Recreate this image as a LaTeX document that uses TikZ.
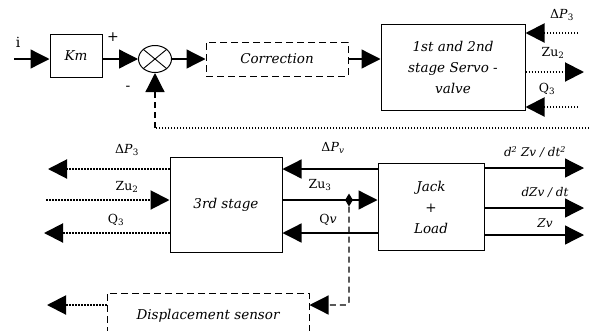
\documentclass[tikz,border=0pt]{standalone}
\usepackage{fontspec}
\setmainfont{DejaVu Serif}
\usetikzlibrary{arrows.meta,positioning,shapes.geometric,calc}

\begin{document}
\begin{tikzpicture}[
    x=1pt, y=-1pt,
    font=\itshape\fontsize{13.5}{21}\selectfont,
    block/.style={draw, line width=1pt, align=center, inner sep=0pt},
    dblock/.style={block, dash pattern=on 7pt off 4pt},
    sig/.style={font=\fontsize{12.5}{14}\selectfont, inner sep=0pt},
    tip/.style={-{Triangle[length=19pt 0 0, width=19pt 0 0]}},
    arrow/.style={tip, line width=1.3pt},
    dotline/.style={line width=2pt, dash pattern=on 1.5pt off 1.5pt},
    darrow/.style={dotline, tip},
    dashline/.style={line width=1.2pt, dash pattern=on 6pt off 4pt},
    dasharrow/.style={dashline, tip}
]
\useasboundingbox (0,0) rectangle (589,330);

% Forward path (top)
\coordinate (in) at (14,59);
\node[sig, font=\fontsize{14}{14}\selectfont] (ilab) at (18,42) {i};
\node[block, minimum width=52pt, minimum height=43pt] (km) at (76,56) {Km};
\node[draw, ellipse, line width=1pt, minimum width=33pt, minimum height=27pt, inner sep=0pt] (sum) at (155,59) {};
\draw[line width=0.9pt] (sum.north west) -- (sum.south east) (sum.north east) -- (sum.south west);
\node[sig, font=\fontsize{14}{14}\selectfont] (plus) at (113,37) {+};
\node[sig, font=\fontsize{14}{14}\selectfont] (minus) at (128,88) {-};
\node[dblock, minimum width=142pt, minimum height=34pt] (corr) at (277,59) {Correction};
\node[block, minimum width=144pt, minimum height=86pt] (servo) at (453,67) {1st and 2nd\\stage Servo -\\valve};

\draw[arrow] (in) -- (in -| km.west);
\draw[arrow] (km.east |- sum.west) -- (sum.west);
\draw[arrow] (sum.east) -- (corr.west);
\draw[arrow] (corr.east) -- (corr.east -| servo.west);

% Servo-valve signals
\coordinate (sv1) at (578,33);
\coordinate (sv2) at (584,72);
\coordinate (sv3) at (578,107);
\draw[darrow] (sv1) -- (sv1 -| servo.east);
\draw[darrow] (sv2 -| servo.east) -- (sv2);
\draw[darrow] (sv3) -- (sv3 -| servo.east);
\node[sig] (dp3a) at (562,15) {Δ\textit{P}\textsubscript{3}};
\node[sig] (zu2a) at (553,53) {Zu\textsubscript{2}};
\node[sig] (q3a) at (547,89) {Q\textsubscript{3}};

% Feedback
\coordinate (fb) at (589,128);
\draw[dotline] (fb) -- (fb -| sum);
\draw[dasharrow] (fb -| sum) -- (sum.south);

% 3rd stage and load (middle)
\node[block, minimum width=112pt, minimum height=95pt] (st3) at (226,205) {3rd stage};
\node[block, minimum width=106pt, minimum height=87pt] (jack) at (431,207) {Jack\\+\\Load};

\coordinate (l1) at (48,169);
\coordinate (l2) at (46,200);
\coordinate (l3) at (44,233);
\draw[darrow] (l1 -| st3.west) -- (l1);
\draw[darrow] (l2) -- (l2 -| st3.west);
\draw[darrow] (l3 -| st3.west) -- (l3);
\node[sig] (dp3b) at (127,150) {Δ\textit{P}\textsubscript{3}};
\node[sig] (zu2b) at (127,187) {Zu\textsubscript{2}};
\node[sig] (q3b) at (116,220) {Q\textsubscript{3}};

\draw[arrow] (jack.west |- l1) -- (st3.east |- l1);
\draw[arrow] (st3.east |- l2) -- (jack.west |- l2);
\draw[arrow] (jack.west |- l3) -- (st3.east |- l3);
\node[diamond, fill, inner sep=0pt, minimum width=8pt, minimum height=13pt] (tap) at (349,200) {};
\node[sig] (dpv) at (333,148) {Δ\textit{P}\textsubscript{\textit{v}}};
\node[sig] (zu3) at (320,185) {Zu\textsubscript{3}};
\node[sig] (qv) at (328,220) {Q\textit{v}};

% Load outputs
\coordinate (o1) at (584,168);
\coordinate (o2) at (584,208);
\coordinate (o3) at (584,235);
\draw[arrow] (jack.east |- o1) -- (o1);
\draw[arrow] (jack.east |- o2) -- (o2);
\draw[arrow] (jack.east |- o3) -- (o3);
\node[sig, font=\itshape\fontsize{12}{14}\selectfont] (acc) at (535,152) {d\textsuperscript{2} Zv / dt\textsuperscript{2}};
\node[sig, font=\itshape\fontsize{12}{14}\selectfont] (vel) at (545,192) {dZv / dt};
\node[sig, font=\itshape\fontsize{12}{14}\selectfont] (pos) at (545,223) {Zv};

% Displacement sensor (bottom)
\node[dblock, minimum width=202pt, minimum height=46pt] (disp) at (208,316) {Displacement sensor};
\coordinate (dcorner) at (349,305);
\coordinate (dout) at (47,305);
\draw[dasharrow, rounded corners=3pt] (tap.south) -- (dcorner) -- (dcorner -| disp.east);
\draw[darrow] (disp.west |- dcorner) -- (dout);

\end{tikzpicture}
\end{document}
